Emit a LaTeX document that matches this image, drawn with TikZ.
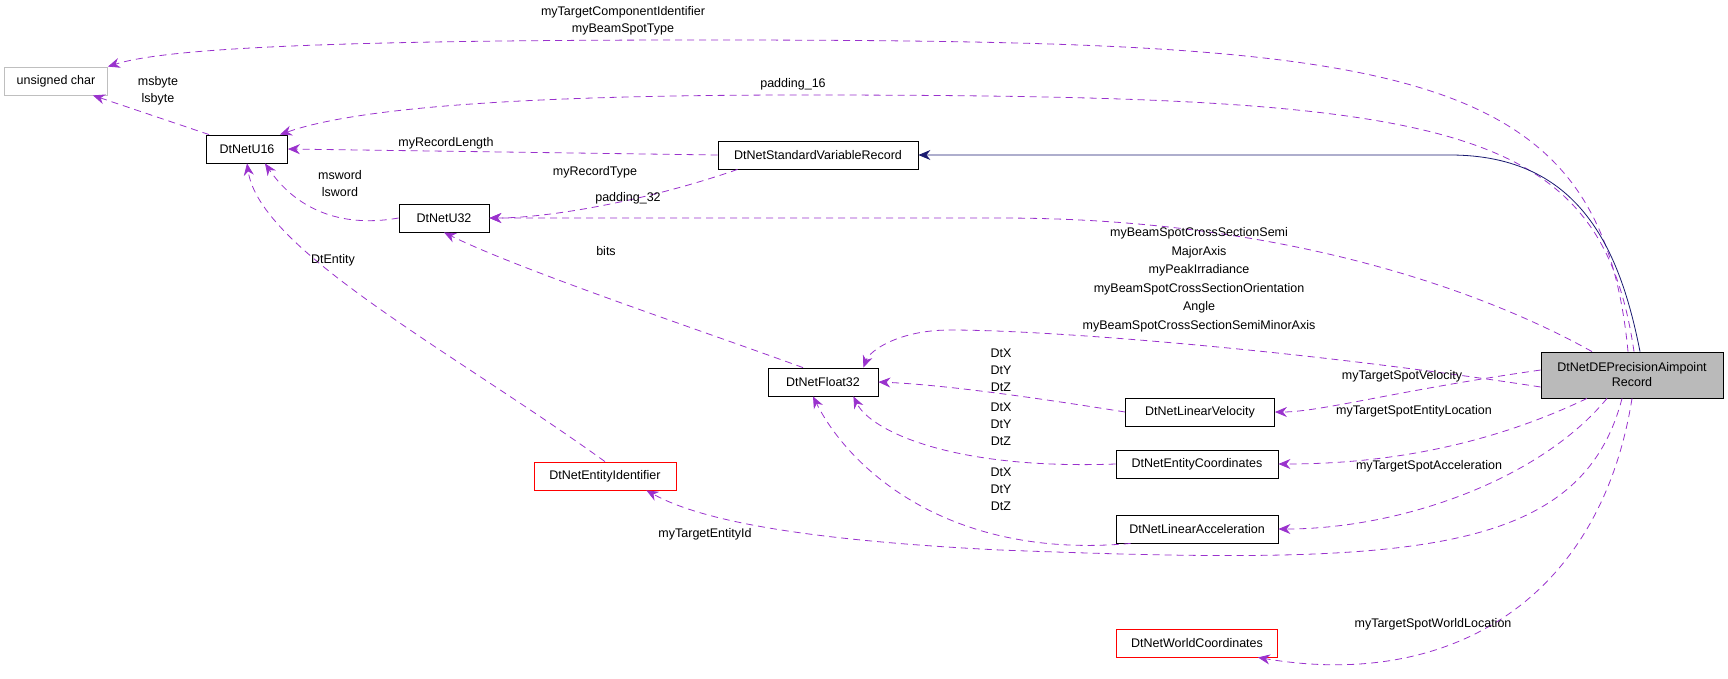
\documentclass[tikz,border=0pt]{standalone}
\usepackage{fontspec}
\setmainfont{Liberation Sans}
\usetikzlibrary{arrows.meta}
\definecolor{purp}{HTML}{9A32CD}
\definecolor{navy}{HTML}{191970}
\begin{document}
\begin{tikzpicture}[x=1pt,y=-1pt,
  box/.style={draw=black,thick,fill=white,minimum height=28pt,inner xsep=5pt,font=\fontsize{12.5}{15}\selectfont},
  rbox/.style={box,draw=red},
  gbox/.style={box,draw=black!25},
  lab/.style={font=\fontsize{12.5}{17}\selectfont,align=center},
  rel/.style={draw=purp,thick,dash pattern=on 7pt off 5pt,-{Stealth[length=12pt,width=10pt]}},
  inh/.style={draw=navy,thick,-{Stealth[length=12pt,width=10pt]}}]
\useasboundingbox (0,0) rectangle (1728,678);
\node[gbox,minimum width=103pt] (uc) at (56,81) {unsigned char};
\node[box,minimum width=81pt] (u16) at (247,149) {DtNetU16};
\node[box,minimum width=200pt] (svr) at (818,155) {DtNetStandardVariableRecord};
\node[box,minimum width=90pt] (u32) at (444,218) {DtNetU32};
\node[box,minimum width=110pt] (f32) at (823,382) {DtNetFloat32};
\node[rbox,minimum width=142pt] (eid) at (605,476) {DtNetEntityIdentifier};
\node[box,minimum width=149pt] (lv) at (1200,412) {DtNetLinearVelocity};
\node[box,minimum width=162pt] (ec) at (1197,464) {DtNetEntityCoordinates};
\node[box,minimum width=162pt] (la) at (1197,529) {DtNetLinearAcceleration};
\node[rbox,minimum width=161pt] (wc) at (1197,643) {DtNetWorldCoordinates};
\node[box,fill=black!27,minimum width=182pt,minimum height=46pt,align=center] (m) at (1632,375) {DtNetDEPrecisionAimpoint\\Record};
% main edges
\draw[rel] ([xshift=-4pt]m.north) .. controls (1600,60) and (1400,40) .. (700,40) .. controls (300,40) and (160,50) .. (uc.north east);
\draw[rel] ([xshift=2pt]m.north) .. controls (1600,120) and (1450,95) .. (800,95) .. controls (500,95) and (350,110) .. ([xshift=-8pt]u16.north east);
\draw[inh] ([xshift=8pt]m.north) .. controls (1620,250) and (1580,155) .. (1450,155) -- (svr.east);
\draw[rel] ([xshift=-40pt]m.north) .. controls (1500,300) and (1300,218) .. (1000,218) -- (u32.east);
\draw[rel] ([yshift=-12pt]m.west) .. controls (1300,350) and (1050,330) .. (950,330) .. controls (900,330) and (870,350) .. ([xshift=-15pt]f32.north east);
\draw[rel] ([yshift=5pt]m.west) .. controls (1400,390) and (1320,412) .. (lv.east);
\draw[rel] ([xshift=-45pt]m.south) .. controls (1500,440) and (1400,464) .. (ec.east);
\draw[rel] ([xshift=-25pt]m.south) .. controls (1540,480) and (1400,529) .. (la.east);
\draw[rel] ([xshift=-10pt]m.south) .. controls (1580,560) and (1400,565) .. (1000,550) .. controls (800,540) and (700,520) .. ([xshift=-30pt]eid.south east);
\draw[rel] ([xshift=0pt]m.south) .. controls (1600,600) and (1450,690) .. ([xshift=-20pt]wc.south east);
% other edges
\draw[rel] ([xshift=3pt]u16.north west) -- ([xshift=-15pt]uc.south east);
\draw[rel] (svr.west) -- (u16.east);
\draw[rel] ([xshift=20pt]svr.south west) .. controls (650,200) and (550,218) .. (u32.east);
\draw[rel] (u32.west) .. controls (330,230) and (290,200) .. ([xshift=18pt]u16.south);
\draw[rel] (eid.north) .. controls (450,350) and (260,250) .. ([xshift=0pt]u16.south);
\draw[rel] ([xshift=-20pt]f32.north) .. controls (700,330) and (520,270) .. (u32.south);
\draw[rel] (lv.west) .. controls (1050,400) and (950,385) .. (f32.east);
\draw[rel] (ec.west) .. controls (950,470) and (870,430) .. ([xshift=-25pt]f32.south east);
\draw[rel] ([xshift=15pt]la.south west) .. controls (950,560) and (850,470) .. ([xshift=-10pt]f32.south);
% labels
\node[lab] (l1) at (623,21) {myTargetComponentIdentifier\\myBeamSpotType};
\node[lab] (l2) at (793,84) {padding\_16};
\node[lab] (l3) at (446,143) {myRecordLength};
\node[lab] (l4) at (595,172) {myRecordType};
\node[lab] (l5) at (158,91) {msbyte\\lsbyte};
\node[lab] (l6) at (340,184) {msword\\lsword};
\node[lab] (l7) at (333,260) {DtEntity};
\node[lab] (l8) at (628,198) {padding\_32};
\node[lab] (l9) at (606,251) {bits};
\node[lab,font=\fontsize{12.5}{18.5}\selectfont] (l10) at (1199,280) {myBeamSpotCrossSectionSemi\\MajorAxis\\myPeakIrradiance\\myBeamSpotCrossSectionOrientation\\Angle\\myBeamSpotCrossSectionSemiMinorAxis};
\node[lab] (l11) at (1001,370) {DtX\\DtY\\DtZ};
\node[lab] (l12) at (1001,424) {DtX\\DtY\\DtZ};
\node[lab] (l13) at (1001,489) {DtX\\DtY\\DtZ};
\node[lab] (l14) at (1402,376) {myTargetSpotVelocity};
\node[lab] (l15) at (1414,411) {myTargetSpotEntityLocation};
\node[lab] (l16) at (1429,466) {myTargetSpotAcceleration};
\node[lab] (l17) at (705,534) {myTargetEntityId};
\node[lab] (l18) at (1433,624) {myTargetSpotWorldLocation};
\end{tikzpicture}
\end{document}
